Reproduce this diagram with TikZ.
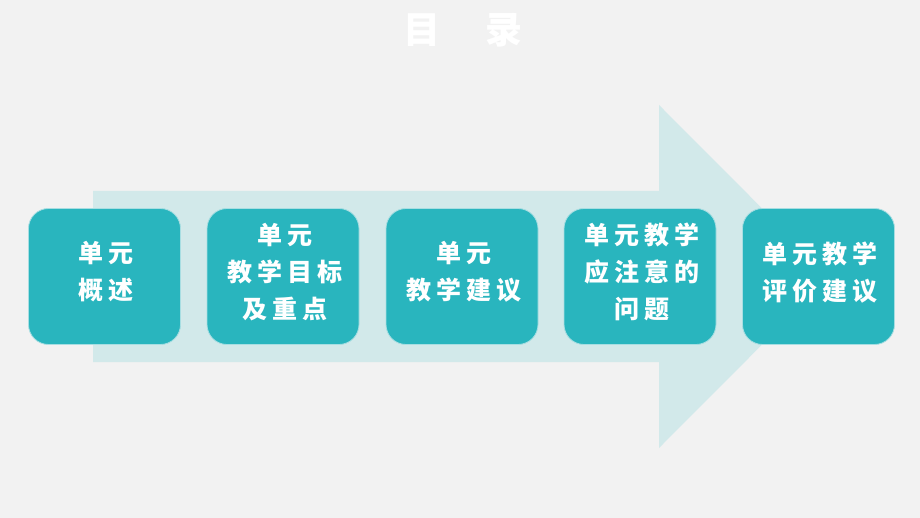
\documentclass[tikz,border=0pt]{standalone}
\usepackage{fontspec}
\newfontfamily\cjk[LetterSpace=20]{Noto Sans CJK SC}
\newfontfamily\cjktitle{Noto Sans CJK SC}
\definecolor{bgc}{HTML}{F2F2F2}
\definecolor{arrowc}{HTML}{D2E9EA}
\definecolor{boxc}{HTML}{29B5BE}
\definecolor{boxline}{HTML}{A8DEE2}
\tikzset{
  itembox/.style={draw=boxline, line width=0.8pt, fill=boxc, rounded corners=20pt,
    minimum width=152pt, minimum height=136pt, inner sep=0pt},
  itemtext/.style={text=white, font=\cjk\bfseries\fontsize{25}{37}\selectfont, align=center, inner sep=0pt}
}
\begin{document}
\begin{tikzpicture}[x=1pt,y=-1pt]
\useasboundingbox (0,0) rectangle (920,518);
\fill[bgc] (0,0) rectangle (920,518);
\fill[arrowc] (93,191) -- (659,191) -- (659,105) -- (830,276.5) -- (659,448) -- (659,362) -- (93,362) -- cycle;
\node[text=white, font=\cjktitle\bfseries\fontsize{37}{40}\selectfont, inner sep=0pt] (title) at (463,30) {目\hspace{46pt}录};
\node[itembox] (b1) at (104.5,276.5) {};
\node[itembox] (b2) at (283,276.5) {};
\node[itembox] (b3) at (462,276.5) {};
\node[itembox] (b4) at (640,276.5) {};
\node[itembox] (b5) at (818.5,276.5) {};
\node[itemtext] (t1) at (106,272) {单元\\概述};
\node[itemtext] (t2) at (285,272) {单元\\教学目标\\及重点};
\node[itemtext] (t3) at (464,272) {单元\\教学建议};
\node[itemtext] (t4) at (642,272) {单元教学\\应注意的\\问题};
\node[itemtext] (t5) at (820,273) {单元教学\\评价建议};
\end{tikzpicture}
\end{document}
